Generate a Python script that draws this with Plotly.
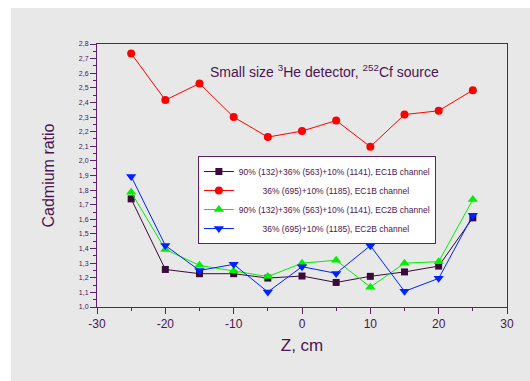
import plotly.graph_objects as go

z = [-25, -20, -15, -10, -5, 0, 5, 10, 15, 20, 25]
ec1b_mix = [1.74, 1.257, 1.228, 1.228, 1.198, 1.212, 1.168, 1.21, 1.24, 1.28, 1.61]
ec1b_cs = [2.735, 2.416, 2.53, 2.30, 2.163, 2.204, 2.276, 2.097, 2.317, 2.343, 2.484]
ec2b_mix = [1.785, 1.394, 1.285, 1.246, 1.208, 1.30, 1.32, 1.136, 1.30, 1.31, 1.735]
ec2b_cs = [1.894, 1.421, 1.25, 1.292, 1.103, 1.276, 1.23, 1.42, 1.107, 1.196, 1.628]

names = [
    "90% (132)+36% (563)+10% (1141), EC1B channel",
    "36% (695)+10% (1185), EC1B channel",
    "90% (132)+36% (563)+10% (1141), EC2B channel",
    "36% (695)+10% (1185), EC2B channel",
]
x_tickvals = [-30, -20, -10, 0, 10, 20, 30]
x_ticktext = ["-30", "-20", "-10", "0", "10", "20", "30"]

AX = "#5b2160"
TXT = "#4b1552"
BG = "#e8e8e8"
FONT = "Liberation Sans, Arial, sans-serif"

pad = "\u00a0" * 10
series = [
    (ec1b_mix, names[0], "#3a0a3a", "square", 7),
    (ec1b_cs, pad + names[1], "#ff0000", "circle", 8),
    (ec2b_mix, names[2], "#00ee00", "triangle-up", 9),
    (ec2b_cs, pad + names[3], "#0022ff", "triangle-down", 9),
]

fig = go.Figure()
for ys, nm, col, sym, sz in series:
    fig.add_trace(go.Scatter(
        x=z, y=ys, name=nm, mode="lines+markers",
        line=dict(color=col, width=1),
        marker=dict(symbol=sym, size=sz, color=col, line=dict(width=0)),
    ))

fig.update_layout(
    width=530, height=381,
    margin=dict(l=97, r=23, t=44, b=74),
    paper_bgcolor="white",
    plot_bgcolor=BG,
    separators=", ",
    font=dict(family=FONT, color=TXT),
    showlegend=True,
    legend=dict(
        x=0.246, y=0.574, xanchor="left", yanchor="top",
        bgcolor="white", bordercolor=AX, borderwidth=1,
        font=dict(size=8.5, color=TXT, family=FONT),
        tracegroupgap=0,
    ),
    shapes=[dict(
        type="rect", xref="paper", yref="paper", layer="below",
        x0=-0.2098, x1=1.06, y0=-0.3, y1=1.137,
        fillcolor=BG, line=dict(width=0),
    )],
    annotations=[dict(
        text="Small size <sup>3</sup>He detector, <sup>252</sup>Cf source",
        xref="paper", yref="paper", x=0.555, y=0.897,
        xanchor="center", yanchor="middle", showarrow=False,
        font=dict(size=14, color=TXT, family=FONT),
    )],
)

fig.update_xaxes(
    range=[-30, 30], tickvals=x_tickvals, ticktext=x_ticktext,
    showgrid=False, zeroline=False,
    showline=True, linecolor=AX, linewidth=1, mirror=True,
    ticks="outside", ticklen=6, tickcolor=AX, tickwidth=1,
    minor=dict(dtick=5, ticks="outside", ticklen=3, tickcolor=AX),
    tickfont=dict(size=12, color=TXT),
    title=dict(text="Z, cm", font=dict(size=17, color=TXT), standoff=8),
)
fig.update_yaxes(
    range=[1.0, 2.8], dtick=0.1, tick0=1.0, tickformat=".1f",
    showgrid=False, zeroline=False,
    showline=True, linecolor=AX, linewidth=1, mirror=True,
    ticks="outside", ticklen=6, tickcolor=AX, tickwidth=1,
    minor=dict(dtick=0.05, ticks="outside", ticklen=3, tickcolor=AX),
    tickfont=dict(size=7, color=TXT),
    title=dict(text="Cadmium ratio", font=dict(size=16, color=TXT), standoff=20),
)

fig.write_html("out.html")
